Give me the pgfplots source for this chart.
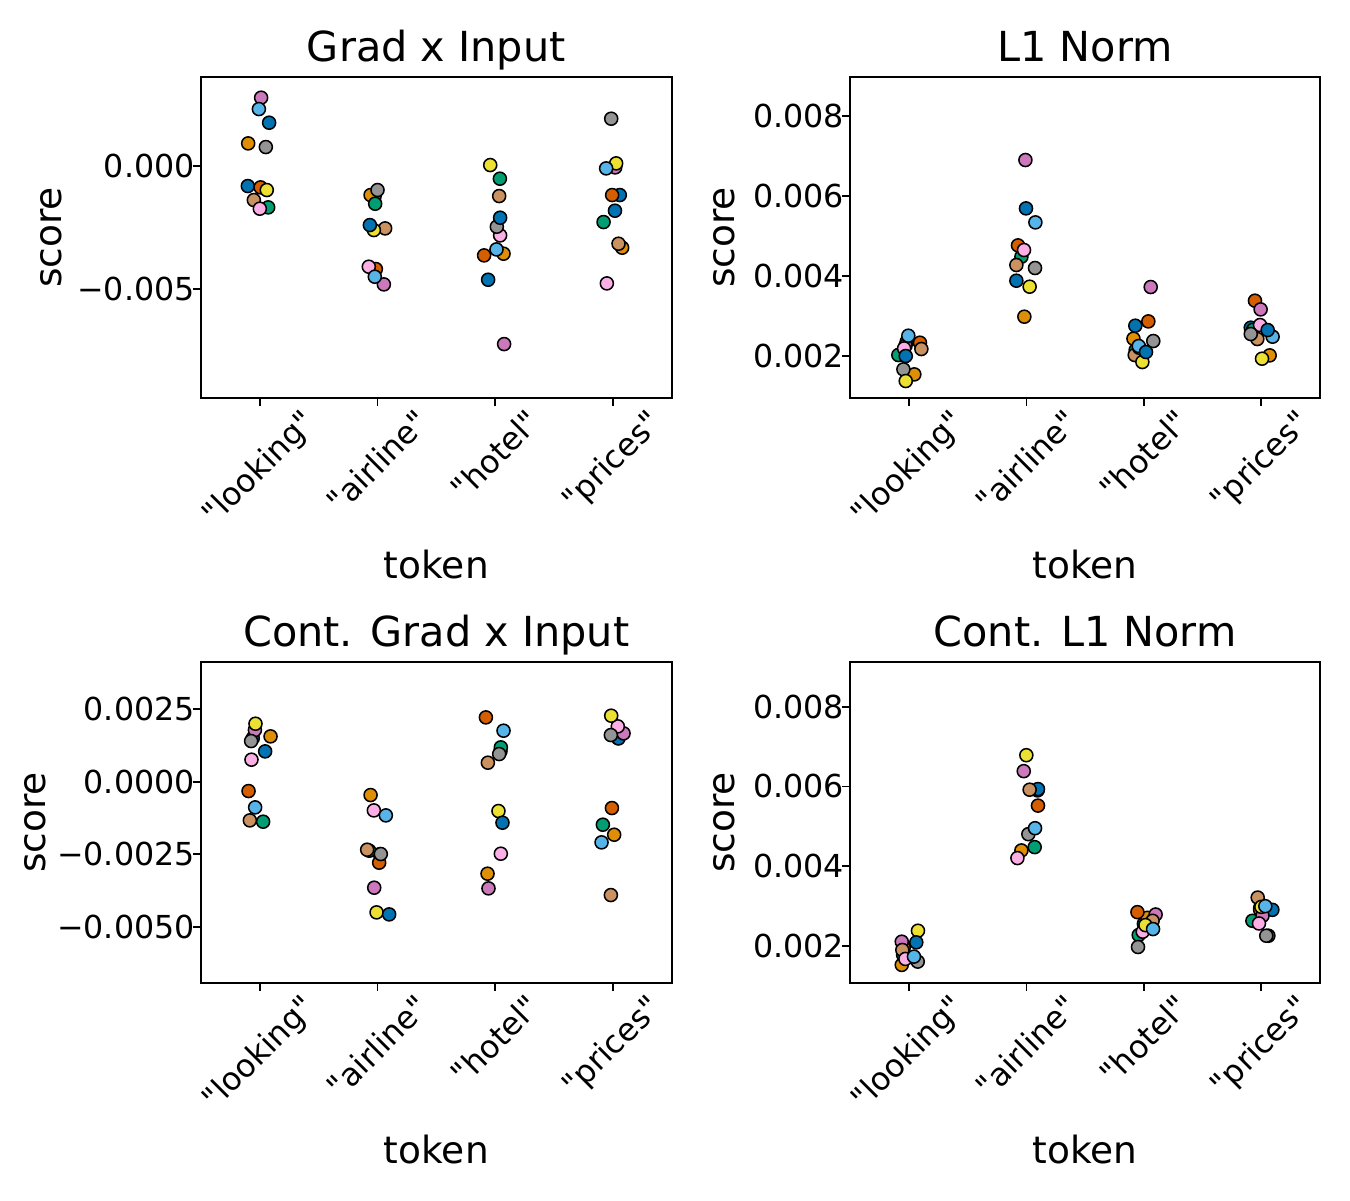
\documentclass[border=0pt]{standalone}
\usepackage{fontspec}
\setmainfont{DejaVu Sans}[Ligatures=TeXOff]
\usepackage{graphicx}
\usepackage{pgfplots}
\pgfplotsset{compat=1.18}
\usepackage{pgfplotstable}

\definecolor{c0}{HTML}{0173B2}
\definecolor{c1}{HTML}{DE8F05}
\definecolor{c2}{HTML}{029E73}
\definecolor{c3}{HTML}{D55E00}
\definecolor{c4}{HTML}{CC78BC}
\definecolor{c5}{HTML}{CA9161}
\definecolor{c6}{HTML}{FBAFE4}
\definecolor{c7}{HTML}{949494}
\definecolor{c8}{HTML}{ECE133}
\definecolor{c9}{HTML}{56B4E9}

\newcommand{\tfont}{\fontsize{11.4}{13}\selectfont}

% Grad x Input
\pgfplotstableread{
x y c
-0.102 -0.000824 a
-0.099 0.000905 b
0.071 -0.001689 c
0.006 -0.000878 d
0.011 0.002757 e
-0.051 -0.001392 f
0.000 -0.001743 g
0.051 0.000757 h
0.059 -0.000986 i
-0.008 0.002297 j
0.079 0.001743 a
0.975 -0.001250 a
0.941 -0.001189 b
0.980 -0.001541 c
0.986 -0.004189 d
1.054 -0.004811 e
1.065 -0.002541 f
0.926 -0.004095 g
1.000 -0.000986 h
0.969 -0.002608 i
0.977 -0.004500 j
0.935 -0.002405 a
1.940 -0.004622 a
2.071 -0.003568 b
2.040 -0.000527 c
1.906 -0.003635 d
2.076 -0.007230 e
2.034 -0.001230 f
2.042 -0.002824 g
2.014 -0.002473 h
1.958 0.000027 i
2.011 -0.003392 j
2.042 -0.002108 a
3.059 -0.001189 a
3.079 -0.003324 b
2.921 -0.002284 c
2.994 -0.001189 d
3.020 -0.000068 e
3.048 -0.003162 f
2.949 -0.004770 g
2.986 0.001905 h
3.028 0.000095 i
2.943 -0.000108 j
3.018 -0.001824 a
}\tA

% L1 Norm
\pgfplotstableread{
x y c
-0.020 0.002350 a
0.045 0.001533 b
-0.091 0.002017 c
0.093 0.002325 d
-0.030 0.002250 e
0.105 0.002167 f
-0.042 0.002183 g
-0.048 0.001658 h
-0.028 0.001367 i
-0.006 0.002500 j
-0.028 0.001992 a
0.996 0.005683 a
0.982 0.002975 b
0.957 0.004475 c
0.928 0.004758 d
0.991 0.006892 e
0.914 0.004267 f
0.979 0.004642 g
1.073 0.004192 h
1.027 0.003725 i
1.076 0.005333 j
0.914 0.003875 a
1.927 0.002750 a
1.911 0.002425 b
1.930 0.002140 c
2.038 0.002858 d
2.058 0.003717 e
1.922 0.002017 f
1.960 0.002200 g
2.080 0.002367 h
1.987 0.001842 i
1.956 0.002242 j
2.018 0.002092 a
2.910 0.002700 a
3.071 0.002008 b
2.930 0.002650 c
2.946 0.003375 d
2.994 0.003158 e
2.966 0.002417 f
2.989 0.002767 g
2.910 0.002542 h
3.006 0.001925 i
3.096 0.002475 j
3.054 0.002642 a
}\tB

% Cont. Grad x Input
\pgfplotstableread{
x y c
-0.060 0.001500 a
0.091 0.001563 b
0.028 -0.001379 c
-0.096 -0.000322 d
-0.042 0.001780 e
-0.085 -0.001333 f
-0.071 0.000759 g
-0.074 0.001402 h
-0.037 0.002000 i
-0.040 -0.000885 j
0.045 0.001046 a
1.020 -0.002500 a
0.941 -0.000460 b
0.930 -0.002380 c
1.014 -0.002793 d
0.972 -0.003655 e
0.912 -0.002345 f
0.969 -0.000989 g
1.028 -0.002494 h
0.992 -0.004506 i
1.071 -0.001161 j
1.099 -0.004575 a
2.045 0.001050 a
1.935 -0.003172 b
2.048 0.001184 c
1.921 0.002218 d
1.943 -0.003678 e
1.938 0.000655 f
2.048 -0.002483 g
2.034 0.000954 h
2.028 -0.001011 i
2.071 0.001759 j
2.062 -0.001414 a
3.045 0.001500 a
3.048 0.001494 a
3.011 -0.001828 b
2.915 -0.001483 c
2.992 -0.000908 d
3.091 0.001667 e
2.983 -0.003908 f
3.042 0.001908 g
2.983 0.001609 h
2.986 0.002276 i
2.904 -0.002092 j
}\tC

% Cont. L1 Norm
\pgfplotstableread{
x y c
-0.050 0.001950 a
-0.062 0.001517 b
-0.050 0.001770 c
-0.045 0.001950 d
-0.062 0.002100 e
-0.057 0.001892 f
-0.031 0.001667 g
0.074 0.001600 h
0.076 0.002375 i
0.042 0.001725 j
0.062 0.002083 a
1.095 0.005900 a
1.098 0.005933 a
0.957 0.004392 b
1.070 0.004475 c
1.098 0.005517 d
0.977 0.006383 e
1.027 0.005917 f
0.923 0.004200 g
1.016 0.004800 h
0.999 0.006783 i
1.073 0.004950 j
2.020 0.002500 a
2.000 0.002550 a
2.030 0.002700 b
1.956 0.002267 c
1.945 0.002842 d
2.100 0.002783 e
2.074 0.002625 f
1.990 0.002350 g
1.950 0.001967 h
2.013 0.002517 i
2.078 0.002417 j
3.060 0.002250 a
3.094 0.002900 a
2.990 0.002950 b
2.924 0.002625 c
2.990 0.002900 d
3.010 0.002750 e
2.969 0.003208 f
2.980 0.002558 g
3.042 0.002250 h
3.000 0.002975 i
3.034 0.002992 j
}\tD

\pgfplotsset{
  panel/.style={
    scale only axis, width=169.45pt, height=115.34pt, anchor=south west,
    xmin=-0.5, xmax=3.5, xtick={0,1,2,3},
    xticklabels={\tfont\rotatebox{45}{"looking"},\tfont\rotatebox{45}{"airline"},\tfont\rotatebox{45}{"hotel"},\tfont\rotatebox{45}{"prices"}},
    tick align=outside, major tick length=2.9pt,
    tick style={line width=0.6pt, black},
    xtick pos=bottom, ytick pos=left,
    axis line style={line width=0.6pt},
    scaled y ticks=false,
    every axis title shift=0pt,
    tick label style={font=\tfont},
    xticklabel style={font=\tfont, anchor=north, inner sep=0pt, outer sep=0pt, yshift=-0.6pt},
    yticklabel style={font=\tfont, anchor=east, inner sep=0pt, outer sep=0pt, xshift=0.6pt},
    title style={font=\fontsize{14.9}{17}\selectfont, at={(axis description cs:0.5,1)}, anchor=base, yshift=5.6pt},
    label style={font=\fontsize{13.5}{16}\selectfont},
    xlabel style={at={(axis description cs:0.5,0)}, anchor=base, yshift=-65.2pt},
    xlabel={token}, ylabel={score},
  },
  dots/.style={
    only marks, scatter, scatter src=explicit symbolic,
    mark size=2.35pt,
    every mark/.append style={line width=0.55pt, draw=black},
    scatter/classes={
      a={mark=*,draw=black,fill=c0},
      b={mark=*,draw=black,fill=c1},
      c={mark=*,draw=black,fill=c2},
      d={mark=*,draw=black,fill=c3},
      e={mark=*,draw=black,fill=c4},
      f={mark=*,draw=black,fill=c5},
      g={mark=*,draw=black,fill=c6},
      h={mark=*,draw=black,fill=c7},
      i={mark=*,draw=black,fill=c8},
      j={mark=*,draw=black,fill=c9}
    },
  },
}

\begin{document}
\begin{tikzpicture}
\useasboundingbox (0,0) rectangle (486pt,432pt);

\begin{axis}[panel, at={(72.36pt,288.83pt)},
  title={Grad x Input},
  ymin=-0.009404, ymax=0.003583,
  ytick={-0.005,0}, yticklabels={{\tfont −0.005},{\tfont 0.000}},
  ylabel style={at={(axis description cs:-0.2959,0.5)}, anchor=base}]
\addplot[dots] table[x=x, y=y, meta=c] {\tA};
\end{axis}

\begin{axis}[panel, at={(306.11pt,288.83pt)}, width=169.1pt,
  title={L1 Norm},
  ymin=0.00095, ymax=0.00896,
  ytick={0.002,0.004,0.006,0.008}, yticklabels={{\tfont 0.002},{\tfont 0.004},{\tfont 0.006},{\tfont 0.008}},
  ylabel style={at={(axis description cs:-0.247,0.5)}, anchor=base}]
\addplot[dots] table[x=x, y=y, meta=c] {\tB};
\end{axis}

\begin{axis}[panel, at={(72.36pt,78.23pt)},
  title={Cont. Grad x Input},
  ymin=-0.006931, ymax=0.004117,
  ytick={-0.005,-0.0025,0,0.0025}, yticklabels={{\tfont −0.0050},{\tfont −0.0025},{\tfont 0.0000},{\tfont 0.0025}},
  ylabel style={at={(axis description cs:-0.330,0.5)}, anchor=base}]
\addplot[dots] table[x=x, y=y, meta=c] {\tC};
\end{axis}

\begin{axis}[panel, at={(306.11pt,78.23pt)}, width=169.1pt,
  title={Cont. L1 Norm},
  ymin=0.00107, ymax=0.009116,
  ytick={0.002,0.004,0.006,0.008}, yticklabels={{\tfont 0.002},{\tfont 0.004},{\tfont 0.006},{\tfont 0.008}},
  ylabel style={at={(axis description cs:-0.247,0.5)}, anchor=base}]
\addplot[dots] table[x=x, y=y, meta=c] {\tD};
\end{axis}
\end{tikzpicture}
\end{document}
